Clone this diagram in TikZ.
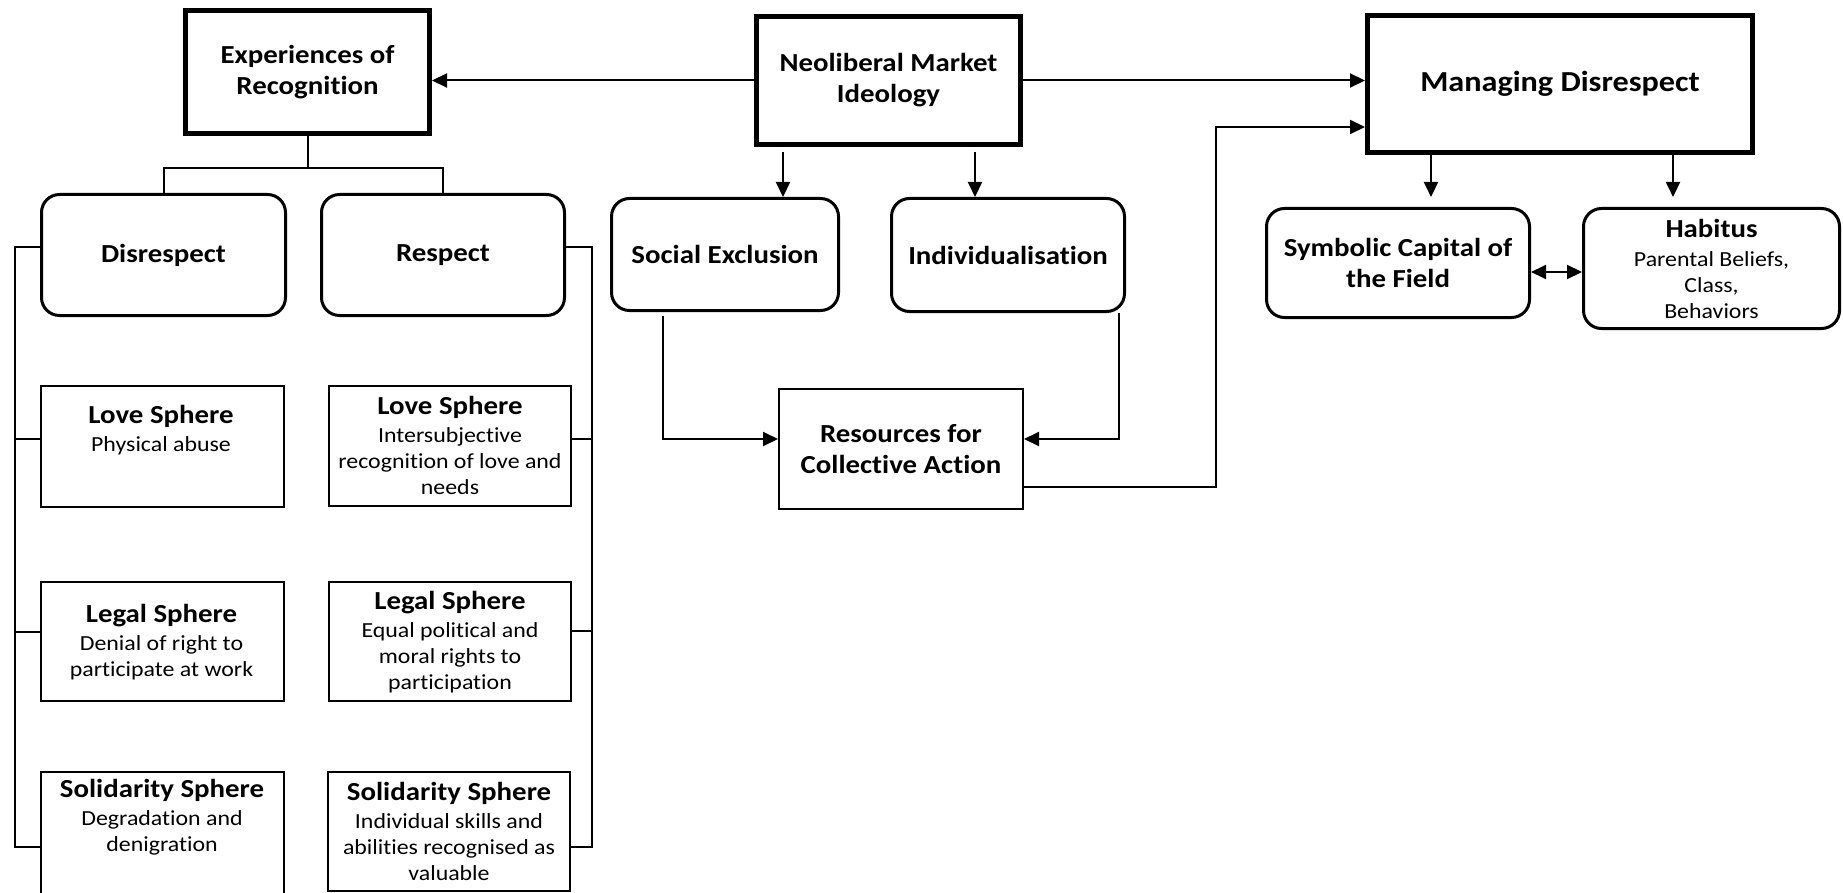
\documentclass[tikz,border=0pt]{standalone}
\usepackage{fontspec}
\setmainfont{Carlito}[FakeStretch=1.11,Ligatures=NoCommon]
\usetikzlibrary{arrows.meta}
\newcommand\boxtitle{\fontsize{26}{31}\selectfont\bfseries}
\newcommand\spheresub{\fontsize{21.5}{26}\selectfont}

\begin{document}
\begin{tikzpicture}[x=1pt,y=-1pt,inner sep=0pt,line width=2pt,>={Triangle[length=15pt,width=14pt]},
mainblock/.style={draw,rectangle,line width=5pt,align=center,font=\boxtitle},
roundblock/.style={draw,rectangle,rounded corners=18pt,line width=3pt,align=center,font=\boxtitle},
sphere/.style={draw,rectangle,line width=2pt,minimum width=243pt},
spheretext/.style={anchor=north,align=center,font=\spheresub}]

\useasboundingbox (0,0) rectangle (1843,893);
\clip (0,0) rectangle (1843,893);

\draw (307.5,72) node[mainblock,minimum width=244pt,minimum height=123pt] (exp) {Experiences of\\Recognition};
\draw (888.5,80.5) node[mainblock,minimum width=264pt,minimum height=128pt] (neo) {Neoliberal Market\\Ideology};
\draw (1560,84) node[mainblock,minimum width=385pt,minimum height=137pt,font=\fontsize{29}{34}\selectfont\bfseries] (man) {Managing Disrespect};

\draw (163.5,255) node[roundblock,minimum width=244pt,minimum height=121pt] (dis) {Disrespect};
\draw (443,255) node[roundblock,minimum width=243pt,minimum height=121pt] (res) {Respect};
\draw (725,254.5) node[roundblock,minimum width=227pt,minimum height=112pt] (soc) {Social Exclusion};
\draw (1008,255) node[roundblock,minimum width=233pt,minimum height=113pt] (ind) {Individualisation};
\draw (1398,263) node[roundblock,minimum width=263pt,minimum height=109pt] (sym) {Symbolic Capital of\\the Field};
\draw (1711.5,268.5) node[roundblock,minimum width=256pt,minimum height=120pt,font=\spheresub] (hab) {{\boxtitle Habitus}\\[3pt]Parental Beliefs,\\Class,\\Behaviors};

\draw (901,449) node[sphere,minimum width=244pt,minimum height=120pt,align=center,font=\boxtitle] (rca) {Resources for\\Collective Action};

% spheres of disrespect
\draw (162.5,446.5) node[sphere,minimum height=121pt] (dlove) {};
\draw (162.5,641.5) node[sphere,minimum height=119pt] (dlegal) {};
\draw (162.5,838) node[sphere,minimum height=132pt] (dsol) {};
\node[spheretext] (dlovet) at (161,404) {{\boxtitle Love Sphere}\\[2pt]Physical abuse};
\node[spheretext] (dlegalt) at (161.5,603) {{\boxtitle Legal Sphere}\\[2pt]Denial of right to\\participate at work};
\node[spheretext] (dsolt) at (162,778) {{\boxtitle Solidarity Sphere}\\[2pt]Degradation and\\denigration};

% spheres of respect
\draw (450,446) node[sphere,minimum width=242pt,minimum height=120pt] (rlove) {};
\draw (450,641.5) node[sphere,minimum width=242pt,minimum height=119pt] (rlegal) {};
\draw (449,831.5) node[sphere,minimum width=242pt,minimum height=119pt] (rsol) {};
\node[spheretext] (rlovet) at (450,395) {{\boxtitle Love Sphere}\\[2pt]Intersubjective\\recognition of love and\\needs};
\node[spheretext] (rlegalt) at (450,590) {{\boxtitle Legal Sphere}\\[2pt]Equal political and\\moral rights to\\participation};
\node[spheretext] (rsolt) at (449,781) {{\boxtitle Solidarity Sphere}\\[2pt]Individual skills and\\abilities recognised as\\valuable};

\draw[->] (neo.west) -- (neo.west -| exp.east);
\draw[->] (neo.east) -- (neo.east -| man.west);
\draw[->,shorten <=5pt] ([xshift=-105.5pt]neo.south) -- ([xshift=-105.5pt]neo.south |- soc.north);
\draw[->,shorten <=5pt] ([xshift=86.5pt]neo.south) -- ([xshift=86.5pt]neo.south |- ind.north);
\draw[->,shorten <=4pt] ([xshift=-62pt]soc.south) |- ([yshift=10pt]rca.west);
\draw[->] ([xshift=111pt]ind.south) |- ([yshift=10pt]rca.east);
\coordinate (bend) at (1216,127);
\draw[->] ([yshift=-38pt]rca.east) -| (bend) -- (bend -| man.west);
\draw[->,shorten >=10pt] ([xshift=-129pt]man.south) -- ([xshift=-129pt]man.south |- sym.north);
\draw[->,shorten >=10pt] ([xshift=113pt]man.south) -- ([xshift=113pt]man.south |- hab.north);
\draw[<->] ([yshift=-9pt]sym.east) -- ([yshift=-9pt]sym.east -| hab.west);

\draw (exp.south) -- ++(0,32) -| (dis.north);
\draw (exp.south) -- ++(0,32) -| (res.north);

\draw ([yshift=8pt]dis.west) -- ++(-25,0) |- ([yshift=-9pt]dsol.west);
\draw ([yshift=7.5pt]dlove.west) -- ++(-25,0);
\draw ([yshift=10pt]dlegal.west) -- ++(-25,0);
\draw ([yshift=8pt]res.east) -- ++(26,0) |- ([yshift=-15.5pt]rsol.east);
\draw ([yshift=7pt]rlove.east) -- ++(20,0);
\draw ([yshift=10.5pt]rlegal.east) -- ++(20,0);
\end{tikzpicture}
\end{document}
